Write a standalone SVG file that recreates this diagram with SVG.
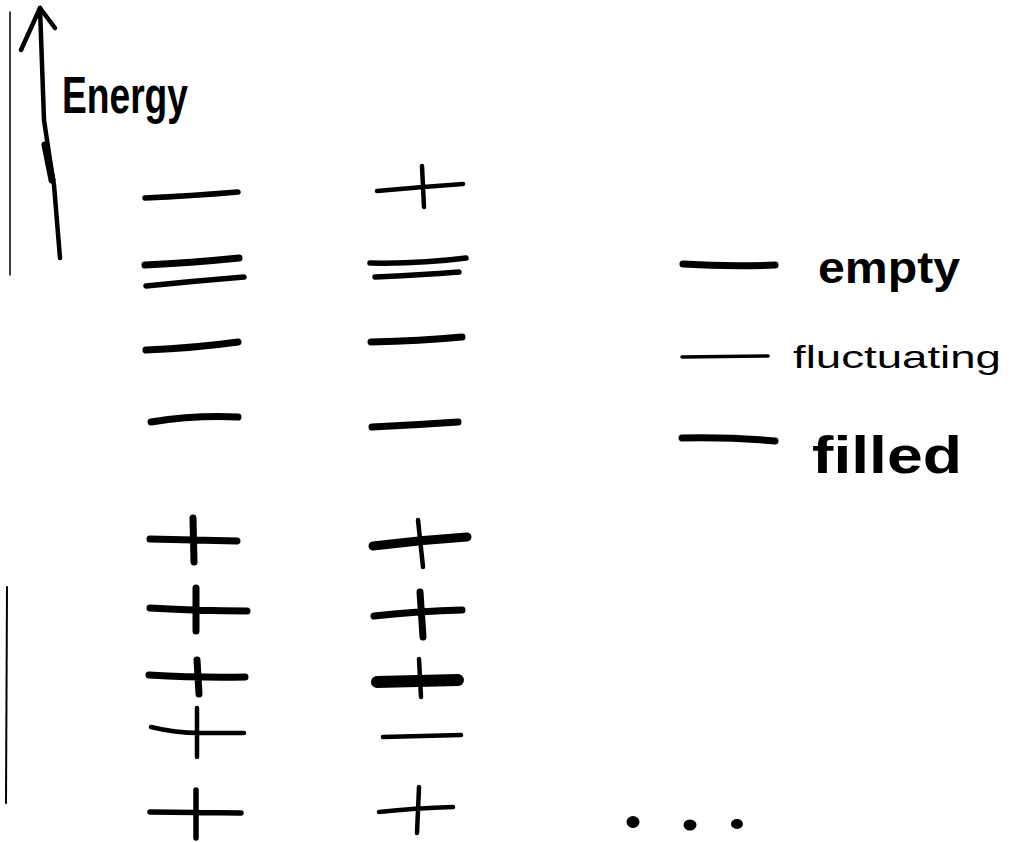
<svg xmlns="http://www.w3.org/2000/svg" width="1014" height="842" viewBox="0 0 1014 842">
<style>
.s{fill:none;stroke:#000;stroke-linecap:round;stroke-linejoin:round}
.w3{stroke-width:3.5}.w4{stroke-width:4.5}.w5{stroke-width:5.5}.w6{stroke-width:7}.w8{stroke-width:9}.w12{stroke-width:12}
.t{font-family:"Liberation Sans","DejaVu Sans",sans-serif;fill:#000}
</style>
<rect width="1014" height="842" fill="#fff"/>
<g id="borders">
<line class="s" x1="10" y1="12" x2="10" y2="275" stroke-width="1.5"/>
<line class="s" x1="7" y1="587" x2="6" y2="803" stroke-width="2"/>
</g>
<g id="axis">
<path class="s w4" d="M40,8 L44,120 L50,160 L54,185 L60,258"/>
<path class="s" stroke-width="7" d="M45,145 L52,180"/>
<path class="s w4" d="M40,8 L21,50 M40,8 L55,28"/>
<text class="t" x="62" y="113" font-size="52" font-weight="bold" textLength="126" lengthAdjust="spacingAndGlyphs">Energy</text>
</g>
<g id="column1">
<path class="s w5" d="M145,198 Q190,196 238,192"/>
<path class="s w6" d="M145,265 Q190,263 239,258"/>
<path class="s w5" d="M146,286 Q195,281 244,277"/>
<path class="s w6" d="M146,350 Q195,348 238,342"/>
<path class="s w6" d="M151,422 Q195,415 238,417"/>
<path class="s w6" d="M150,539 L237,541 M193,518 L194,562"/>
<path class="s w6" d="M150,608 Q200,611 247,611 M196,588 L196,631"/>
<path class="s w6" d="M149,675 Q200,678 245,677 M197,660 L199,694"/>
<path class="s w4" d="M151,727 Q175,733 200,733 L244,733 M197,708 L197,757"/>
<path class="s w5" d="M150,812 L241,813 M196,790 L196,838"/>
</g>
<g id="column2">
<path class="s w4" d="M377,191 Q420,187 463,184 M422,166 L424,207"/>
<path class="s w5" d="M370,263 Q420,264 466,258"/>
<path class="s w5" d="M375,277 Q420,275 459,272"/>
<path class="s w6" d="M371,342 Q420,341 462,337"/>
<path class="s w6" d="M372,427 Q415,425 458,422"/>
<path class="s w8" d="M373,546 Q420,540 467,537"/>
<path class="s w4" d="M418,520 L423,567"/>
<path class="s w6" d="M374,616 Q420,611 462,610 M420,592 L423,637"/>
<path class="s w12" d="M377,682 L458,680"/>
<path class="s w4" d="M419,659 L421,697"/>
<path class="s w4" d="M383,737 L461,735"/>
<path class="s w4" d="M379,812 Q415,808 453,807 M419,787 L417,833"/>
</g>
<g id="legend">
<path class="s w6" d="M683,264 Q730,267 775,265"/>
<text class="t" x="818" y="283" font-size="44" font-weight="bold" textLength="142" lengthAdjust="spacingAndGlyphs">empty</text>
<path class="s w3" d="M682,357 L768,356"/>
<text class="t" x="793" y="368" font-size="32" textLength="208" lengthAdjust="spacingAndGlyphs">fluctuating</text>
<path class="s w6" d="M682,438 Q730,437 775,441"/>
<text class="t" x="812" y="473" font-size="52" font-weight="bold" textLength="150" lengthAdjust="spacingAndGlyphs">filled</text>
</g>
<g id="ellipsis">
<ellipse cx="633" cy="822" rx="6.5" ry="6"/>
<ellipse cx="690" cy="825" rx="6.5" ry="5.5"/>
<ellipse cx="737" cy="824" rx="6" ry="5"/>
</g>
</svg>
